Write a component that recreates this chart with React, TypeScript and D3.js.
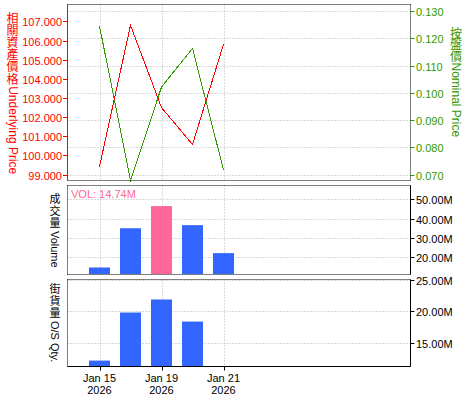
import React from "react";
import * as d3 from "d3";

const dates = ["Jan 15", "Jan 16", "Jan 19", "Jan 20", "Jan 21"];
const xTickIdx = [0, 2, 4];
const xTickYear = "2026";
const underlying = [99.42, 106.79, 102.5, 100.57, 105.8];
const nominal = [0.1245, 0.0678, 0.1021, 0.1163, 0.0717];
const volume = [14.8, 35.0, 46.4, 36.6, 22.2];
const highlightIdx = 2;
const osQty = [12.14, 19.76, 21.83, 18.33, null as number | null];
const leftTicks = [99, 100, 101, 102, 103, 104, 105, 106, 107];
const rightTicks = [0.07, 0.08, 0.09, 0.1, 0.11, 0.12, 0.13];
const volTicks = [20, 30, 40, 50];
const osTicks = [15, 20, 25];
const volLabel = "VOL: 14.74M";

const RED = "#ff0000";
const GREEN = "#339900";
const BLUE = "#3366ff";
const PINK = "#ff6699";
const GRID = "#b4b4b4";
const FONT = "'Liberation Sans', Arial, 'Noto Sans CJK TC', sans-serif";
const CJK = "'Noto Sans CJK TC', 'Noto Sans CJK SC', sans-serif";

const L = 67.5;
const R = 410.5;
const P1 = [4.5, 180.5];
const P2 = [185.5, 274.5];
const P3 = [279.5, 366.5];

function VTitle(props: { cjk: string; latin: string; cx: number; y0: number; fs: number; step: number; color: string }) {
  const { cjk, latin, cx, y0, fs, step, color } = props;
  const n = Array.from(cjk).length;
  const latY = y0 + n * step + 1;
  return (
    <g fill={color}>
      <text x={cx} y={y0} fontSize={fs} fontFamily={CJK}
        style={{ writingMode: "vertical-rl", letterSpacing: `${step - fs}px` } as any}>{cjk}</text>
      <text transform={`translate(${cx},${latY}) rotate(90)`} fontSize={fs} fontFamily={FONT}
        dominantBaseline="central">{latin}</text>
    </g>
  );
}

export default function App() {
  const x = d3.scaleLinear().domain([-1, 10]).range([68.5, 409.5]);
  const yL = d3.scaleLinear().domain([98.69, 107.88]).range([P1[1], P1[0]]);
  const yR = d3.scaleLinear().domain([0.0678, 0.1324]).range([P1[1], P1[0]]);
  const yV = d3.scaleLinear().domain([11.19, 57.0]).range([P2[1], P2[0]]);
  const yO = d3.scaleLinear().domain([11.2, 25]).range([P3[1], P3[0]]);
  const bw = 21;

  const lineL = d3.line<number>().x((_, i) => x(i)).y((d) => yL(d));
  const lineR = d3.line<number>().x((_, i) => x(i)).y((d) => yR(d));

  const vGrid = (top: number, bot: number) =>
    xTickIdx.map((i) => (
      <line key={"vg" + i} x1={Math.round(x(i)) + 0.5} x2={Math.round(x(i)) + 0.5} y1={top} y2={bot}
        stroke={GRID} strokeDasharray="1,2" />
    ));
  const hLine = (y: number, dotted: boolean, color = "#000") => (
    <line x1={L} x2={R} y1={y} y2={y} stroke={color} strokeDasharray={dotted ? "1,1" : undefined} />
  );
  const vLine = (xx: number, top: number, bot: number, dotted: boolean, color = "#000") => (
    <line x1={xx} x2={xx} y1={top} y2={bot} stroke={color} strokeDasharray={dotted ? "1,1" : undefined} />
  );

  return (
    <svg width={475} height={400} style={{ position: "absolute", left: 0, top: 0, fontFamily: FONT }}>
      <rect width={475} height={400} fill="#fff" />
      {/* Top panel */}
      {rightTicks.map((t) => (
        <line key={"hg" + t} x1={L} x2={R} y1={Math.round(yR(t)) + 0.5} y2={Math.round(yR(t)) + 0.5}
          stroke={GRID} strokeDasharray="1,2" />
      ))}
      {vGrid(P1[0], P1[1])}
      <path d={lineR(nominal) || ""} fill="none" stroke={GREEN} strokeWidth={1} shapeRendering="crispEdges" />
      <path d={lineL(underlying) || ""} fill="none" stroke={RED} strokeWidth={1} shapeRendering="crispEdges" />
      {hLine(P1[0], true)}
      {hLine(P1[1], true)}
      {vLine(L, P1[0], P1[1], false, RED)}
      {vLine(R, P1[0], P1[1], true)}
      {leftTicks.map((t) => {
        const yy = Math.round(yL(t)) + 0.5;
        return (
          <g key={"lt" + t}>
            <line x1={63} x2={L} y1={yy} y2={yy} stroke={RED} />
            <text x={62} y={yy + 4} fontSize={11} fill={RED} textAnchor="end">{t.toFixed(3)}</text>
          </g>
        );
      })}
      {rightTicks.map((t) => {
        const yy = Math.round(yR(t)) + 0.5;
        return (
          <g key={"rt" + t}>
            <line x1={R} x2={R + 4} y1={yy} y2={yy} stroke={GREEN} />
            <text x={416} y={yy + 4} fontSize={11} fill={GREEN}>{t.toFixed(3)}</text>
          </g>
        );
      })}
      <VTitle cjk="相關資產價格" latin="Underlying Price" cx={12.5} y0={12} fs={12} step={12.2} color={RED} />
      <VTitle cjk="按盤價" latin="Nominal Price" cx={456} y0={27} fs={12} step={11.5} color={GREEN} />

      {/* Middle panel: volume */}
      {volTicks.map((t) => (
        <line key={"vg2" + t} x1={L} x2={R} y1={Math.round(yV(t)) + 0.5} y2={Math.round(yV(t)) + 0.5}
          stroke={GRID} strokeDasharray="1,2" />
      ))}
      {vGrid(P2[0], P2[1])}
      {volume.map((v, i) => (
        <rect key={"vb" + i} x={Math.round(x(i) - bw / 2)} width={bw} y={yV(v)} height={P2[1] - 0.5 - yV(v)}
          fill={i === highlightIdx ? PINK : BLUE} />
      ))}
      <text x={71} y={198} fontSize={11} fill={PINK}>{volLabel}</text>
      {hLine(P2[0], true)}
      {hLine(P2[1], true)}
      {vLine(L, P2[0], P2[1], true)}
      {vLine(R, P2[0], P2[1], false)}
      {volTicks.map((t) => {
        const yy = Math.round(yV(t)) + 0.5;
        return (
          <g key={"vt" + t}>
            <line x1={R} x2={R + 4} y1={yy} y2={yy} stroke="#000" />
            <text x={416} y={yy + 4} fontSize={11} fill="#000">{t.toFixed(2)}M</text>
          </g>
        );
      })}
      <VTitle cjk="成交量" latin="Volume" cx={55} y0={193} fs={11} step={12.3} color="#000" />

      {/* Bottom panel: O/S qty */}
      {osTicks.map((t) => (
        <line key={"og" + t} x1={L} x2={R} y1={Math.round(yO(t)) + 0.5} y2={Math.round(yO(t)) + 0.5}
          stroke={GRID} strokeDasharray="1,2" />
      ))}
      {vGrid(P3[0], P3[1])}
      {osQty.map((v, i) =>
        v == null ? null : (
          <rect key={"ob" + i} x={Math.round(x(i) - bw / 2)} width={bw} y={yO(v)} height={P3[1] - 0.5 - yO(v)}
            fill={BLUE} />
        )
      )}
      {hLine(P3[0], true)}
      {vLine(L, P3[0], P3[1], true)}
      {vLine(R, P3[0], P3[1], false)}
      {hLine(P3[1], false)}
      {osTicks.map((t) => {
        const yy = Math.round(yO(t)) + 0.5;
        return (
          <g key={"ot" + t}>
            <line x1={R} x2={R + 4} y1={yy} y2={yy} stroke="#000" />
            <text x={416} y={yy + 4} fontSize={11} fill="#000">{t.toFixed(2)}M</text>
          </g>
        );
      })}
      <VTitle cjk="街貨量" latin="O/S Qty." cx={55} y0={283} fs={11} step={12.3} color="#000" />

      {/* X axis */}
      {xTickIdx.map((i) => {
        const xx = Math.round(x(i)) + 0.5;
        return (
          <g key={"xt" + i}>
            <line x1={xx} x2={xx} y1={P3[1]} y2={P3[1] + 4} stroke="#000" />
            <text x={xx - 1} y={382} fontSize={11} textAnchor="middle" fill="#000">{dates[i]}</text>
            <text x={xx - 1} y={394} fontSize={11} textAnchor="middle" fill="#000">{xTickYear}</text>
          </g>
        );
      })}
    </svg>
  );
}
